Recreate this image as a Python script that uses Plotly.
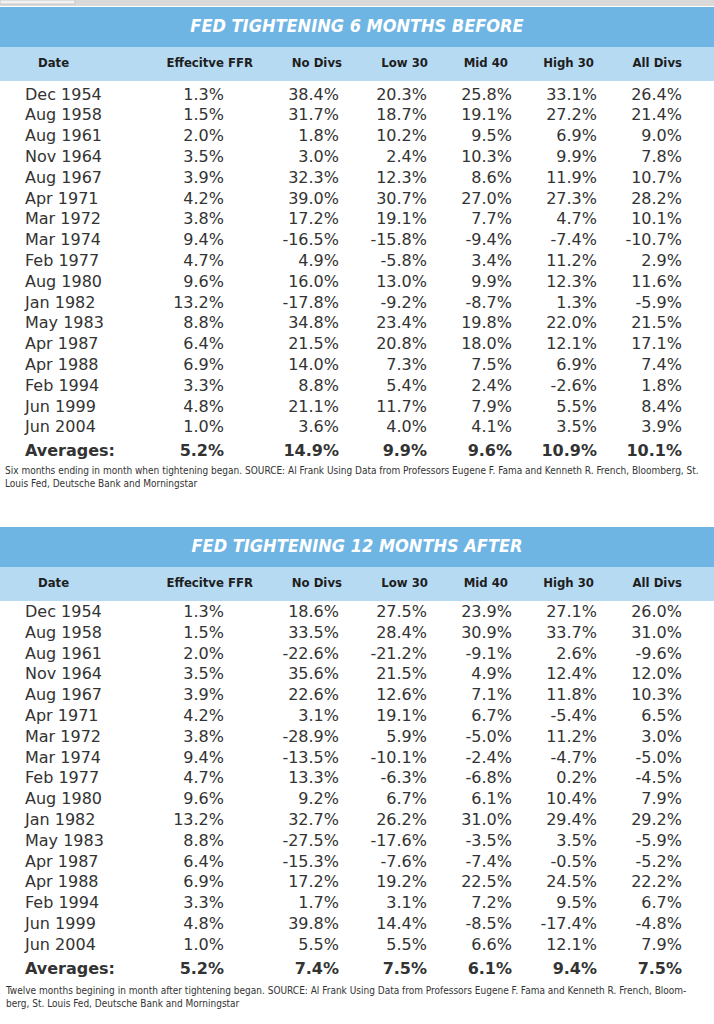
import plotly.graph_objects as go

W, H = 714, 1024

headers = ["Date", "Effecitve FFR", "No Divs", "Low 30", "Mid 40", "High 30", "All Divs"]
dates = ["Dec 1954", "Aug 1958", "Aug 1961", "Nov 1964", "Aug 1967", "Apr 1971",
         "Mar 1972", "Mar 1974", "Feb 1977", "Aug 1980", "Jan 1982", "May 1983",
         "Apr 1987", "Apr 1988", "Feb 1994", "Jun 1999", "Jun 2004"]
ffr = [1.3, 1.5, 2.0, 3.5, 3.9, 4.2, 3.8, 9.4, 4.7, 9.6, 13.2, 8.8, 6.4, 6.9, 3.3, 4.8, 1.0]

# 6 months before tightening
before_no_divs = [38.4, 31.7, 1.8, 3.0, 32.3, 39.0, 17.2, -16.5, 4.9, 16.0, -17.8, 34.8, 21.5, 14.0, 8.8, 21.1, 3.6]
before_low30 = [20.3, 18.7, 10.2, 2.4, 12.3, 30.7, 19.1, -15.8, -5.8, 13.0, -9.2, 23.4, 20.8, 7.3, 5.4, 11.7, 4.0]
before_mid40 = [25.8, 19.1, 9.5, 10.3, 8.6, 27.0, 7.7, -9.4, 3.4, 9.9, -8.7, 19.8, 18.0, 7.5, 2.4, 7.9, 4.1]
before_high30 = [33.1, 27.2, 6.9, 9.9, 11.9, 27.3, 4.7, -7.4, 11.2, 12.3, 1.3, 22.0, 12.1, 6.9, -2.6, 5.5, 3.5]
before_all = [26.4, 21.4, 9.0, 7.8, 10.7, 28.2, 10.1, -10.7, 2.9, 11.6, -5.9, 21.5, 17.1, 7.4, 1.8, 8.4, 3.9]
before_avg = [5.2, 14.9, 9.9, 9.6, 10.9, 10.1]

# 12 months after tightening
after_no_divs = [18.6, 33.5, -22.6, 35.6, 22.6, 3.1, -28.9, -13.5, 13.3, 9.2, 32.7, -27.5, -15.3, 17.2, 1.7, 39.8, 5.5]
after_low30 = [27.5, 28.4, -21.2, 21.5, 12.6, 19.1, 5.9, -10.1, -6.3, 6.7, 26.2, -17.6, -7.6, 19.2, 3.1, 14.4, 5.5]
after_mid40 = [23.9, 30.9, -9.1, 4.9, 7.1, 6.7, -5.0, -2.4, -6.8, 6.1, 31.0, -3.5, -7.4, 22.5, 7.2, -8.5, 6.6]
after_high30 = [27.1, 33.7, 2.6, 12.4, 11.8, -5.4, 11.2, -4.7, 0.2, 10.4, 29.4, 3.5, -0.5, 24.5, 9.5, -17.4, 12.1]
after_all = [26.0, 31.0, -9.6, 12.0, 10.3, 6.5, 3.0, -5.0, -4.5, 7.9, 29.2, -5.9, -5.2, 22.2, 6.7, -4.8, 7.9]
after_avg = [5.2, 7.4, 7.5, 6.1, 9.4, 7.5]

note_before = ("Six months ending in month when tightening began. SOURCE: Al Frank Using Data from Professors "
               "Eugene F. Fama and Kenneth R. French, Bloomberg, St.<br>Louis Fed, Deutsche Bank and Morningstar")
note_after = ("Twelve months begining in month after tightening began. SOURCE: Al Frank Using Data from Professors "
              "Eugene F. Fama and Kenneth R. French, Bloom-<br>berg, St. Louis Fed, Deutsche Bank and Morningstar")

BANNER = "#6fb5e4"
HEAD = "#b7daf3"
TXT = "#333333"
NARROW = "DejaVu Sans Condensed, Liberation Sans Narrow, sans-serif"
BODY = "DejaVu Sans, Verdana, sans-serif"
CLEAR = "rgba(0,0,0,0)"

ROW_H = 20.8


def dom(top, bottom):
    return [1 - bottom / H, 1 - top / H]


def pct(v):
    return f"{v:.1f}%"


fig = go.Figure()


def add_section(title, series, avgs, note, top, rows_top):
    # title banner
    fig.add_trace(go.Table(
        domain=dict(x=[0, 1], y=dom(top, top + 41)),
        columnwidth=[1],
        header=dict(values=[f"<b><i>{title}</i></b>"], height=40, align="center",
                    fill_color=BANNER, line=dict(color=BANNER, width=0),
                    font=dict(family=NARROW, size=18, color="white")),
        cells=dict(values=[[]]),
    ))
    # column header row
    hdr_vals = ["", "<b>" + headers[0] + "</b>"] + \
               ["<b>" + h.replace(" ", "\u00a0") + "</b>" for h in headers[1:]] + [""]
    fig.add_trace(go.Table(
        domain=dict(x=[0, 1], y=dom(top + 40, top + 75)),
        columnwidth=[30, 131, 100, 89, 86, 80, 86, 88, 24],
        header=dict(values=hdr_vals, height=34,
                    align=["left", "left"] + ["right"] * 6 + ["left"],
                    fill_color=HEAD, line=dict(color=HEAD, width=0),
                    font=dict(family=NARROW, size=13, color="#1e1e1e")),
        cells=dict(values=[[]] * 9),
    ))
    # data rows
    cols = [dates + ["<b>Averages:</b>"]]
    for i, s in enumerate([ffr] + series):
        cols.append([pct(v) for v in s] + ["<b>" + pct(avgs[i]) + "</b>"])
    n = len(cols[0])
    cols = [[""] * n] + cols + [[""] * n]
    fig.add_trace(go.Table(
        domain=dict(x=[0, 1], y=dom(rows_top, rows_top + ROW_H * n + 14)),
        columnwidth=[17, 133, 82, 115, 88, 85, 85, 85, 24],
        header=dict(values=[""] * 9, height=1, fill_color=CLEAR,
                    line=dict(color=CLEAR, width=0)),
        cells=dict(values=cols, height=ROW_H,
                   align=["left", "left"] + ["right"] * 6 + ["left"],
                   fill_color=CLEAR, line=dict(color=CLEAR, width=0),
                   font=dict(family=BODY, size=16, color=TXT)),
    ))
    fig.add_annotation(
        x=0.004, y=1 - (top + 456) / H, xref="paper", yref="paper",
        xanchor="left", yanchor="top", align="left", showarrow=False,
        text=note, font=dict(family=NARROW, size=10, color="#333333"),
    )


add_section("FED TIGHTENING 6 MONTHS BEFORE",
            [before_no_divs, before_low30, before_mid40, before_high30, before_all],
            before_avg, note_before, 7, 78.5)
add_section("FED TIGHTENING 12 MONTHS AFTER",
            [after_no_divs, after_low30, after_mid40, after_high30, after_all],
            after_avg, note_after, 527, 596)

# grey strip at the very top of the screenshot
fig.add_shape(type="rect", xref="paper", yref="paper", x0=0, x1=1, y0=1 - 6 / H, y1=1,
              fillcolor="#d9d9d9", line=dict(width=0), layer="above")
fig.add_shape(type="rect", xref="paper", yref="paper", x0=0, x1=75 / W, y0=1 - 4 / H, y1=1,
              fillcolor="#f2f2f2", line=dict(color="#c8c8c8", width=1), layer="above")

fig.update_layout(
    width=W, height=H,
    margin=dict(l=0, r=0, t=0, b=0),
    paper_bgcolor="white",
    plot_bgcolor="white",
    showlegend=False,
)

fig.write_html("out.html", config={"displayModeBar": False},
               post_script="document.body.style.margin='0';")
